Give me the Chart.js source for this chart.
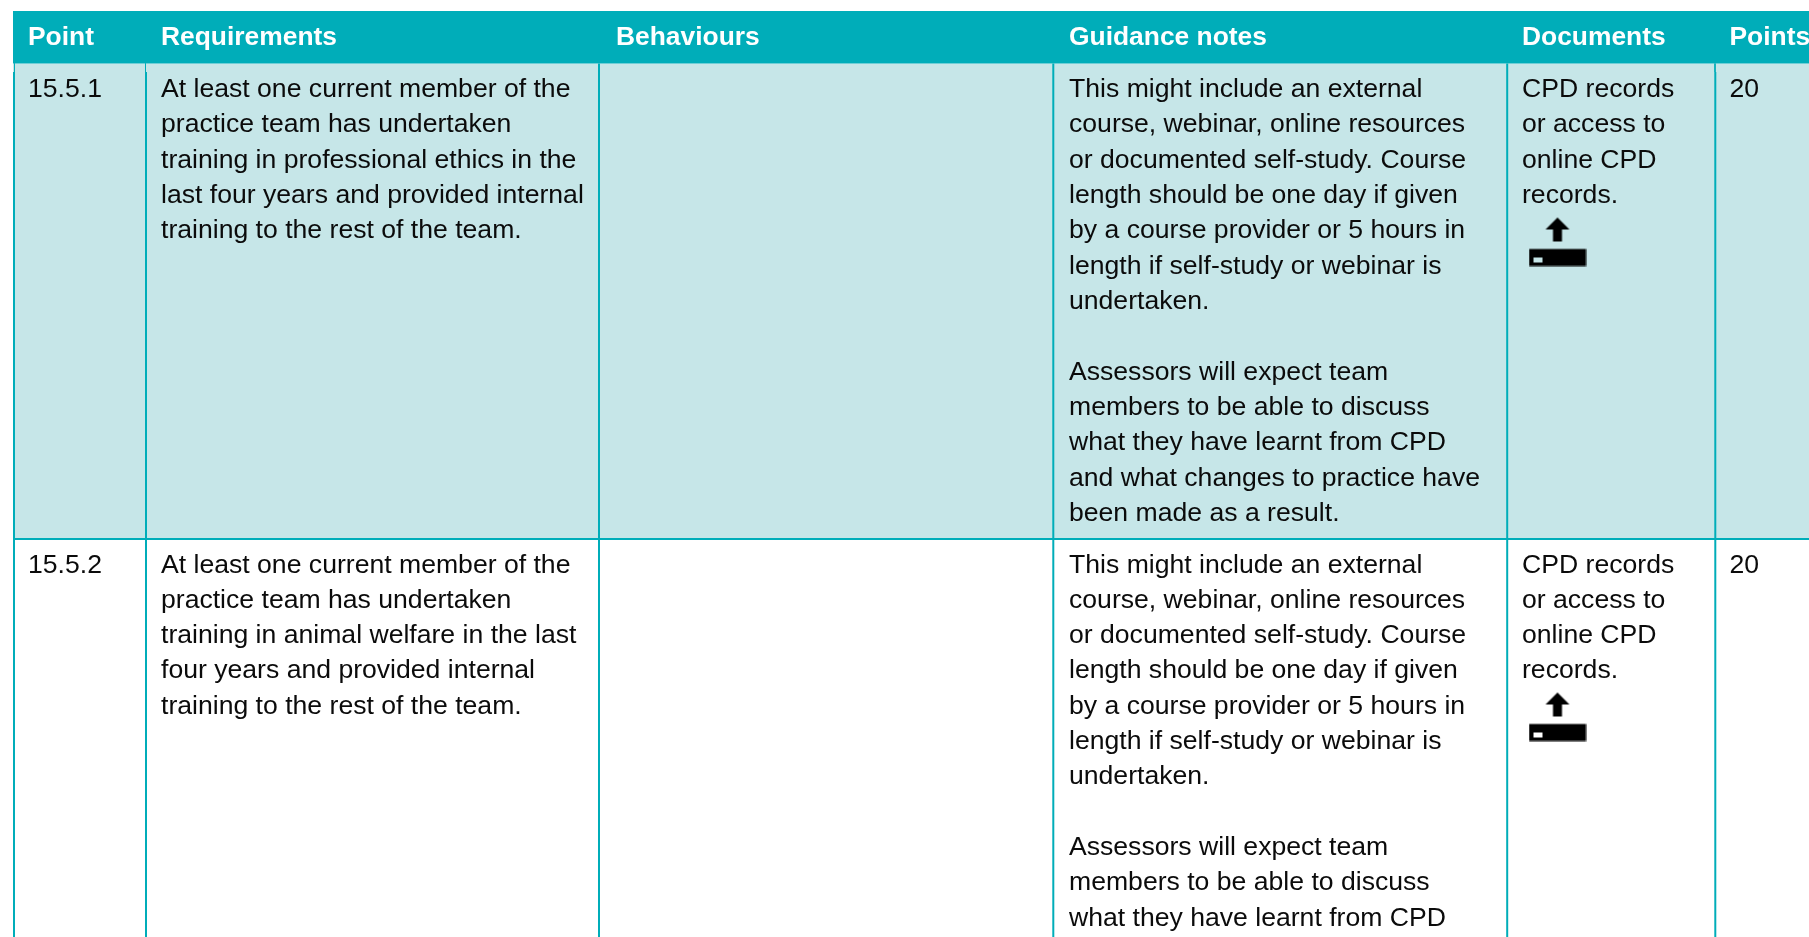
<!DOCTYPE html>
<html lang="en">
<head>
<meta charset="utf-8">
<title>Professional ethics and welfare training</title>
<style>
    html, body { margin: 0; padding: 0; background: #fff; overflow: hidden; }
    canvas { display: block; }
</style>
<script src="https://cdn.jsdelivr.net/npm/chart.js@4/dist/chart.umd.min.js"></script>
</head>
<body>
<canvas id="tableChart" width="1809" height="937"></canvas>
<script>
// Table content
const columnHeaders = ['Point', 'Requirements', 'Behaviours', 'Guidance notes', 'Documents', 'Points'];
const rowIds = ['15.5.1', '15.5.2'];
const rowPoints = ['20', '20'];
const requirementLines = [
    ['At least one current member of the', 'practice team has undertaken', 'training in professional ethics in the', 'last four years and provided internal', 'training to the rest of the team.'],
    ['At least one current member of the', 'practice team has undertaken', 'training in animal welfare in the last', 'four years and provided internal', 'training to the rest of the team.']
];
const guidanceLines = [
    ['This might include an external', 'course, webinar, online resources', 'or documented self-study. Course', 'length should be one day if given', 'by a course provider or 5 hours in', 'length if self-study or webinar is', 'undertaken.', '', 'Assessors will expect team', 'members to be able to discuss', 'what they have learnt from CPD', 'and what changes to practice have', 'been made as a result.'],
    ['This might include an external', 'course, webinar, online resources', 'or documented self-study. Course', 'length should be one day if given', 'by a course provider or 5 hours in', 'length if self-study or webinar is', 'undertaken.', '', 'Assessors will expect team', 'members to be able to discuss', 'what they have learnt from CPD']
];
const documentLines = ['CPD records', 'or access to', 'online CPD', 'records.'];

// Table grid, in axis units
const columnEdges = [14, 146, 599, 1053.3, 1507.2, 1715.3];
const rowEdges = [11, 63.5, 539, 937];
const textStarts = [28, 161, 616, 1069, 1522, 1729.5];
const iconX = [1557.5, 1557.5];
const iconY = [241.5, 716.5];
// The first row's rules start thin under the header on these columns
const thinStubX = [14.5, 145.5, 1715];
const stubEnd = 72;

const TEAL = '#00adb9';
const PALE = '#c6e6e8';
const INK = '#0b0b0b';
const LINE_STEP = 35.33;
const LEFT = 13;
const RIGHT = 1809;

// Upload icon used in the Documents column, the slot stays see-through
function makeUploadIcon() {
    const icon = document.createElement('canvas');
    icon.width = 58;
    icon.height = 50;
    const c = icon.getContext('2d');
    c.fillStyle = '#000';
    c.beginPath();
    c.moveTo(29, 1);
    c.lineTo(41, 13);
    c.lineTo(33.5, 13);
    c.lineTo(33.5, 25);
    c.lineTo(24.5, 25);
    c.lineTo(24.5, 13);
    c.lineTo(17, 13);
    c.closePath();
    c.fill();
    c.fillRect(0.5, 32.5, 57, 17);
    c.clearRect(4.5, 40.5, 9, 5);
    return icon;
}

function ruleDataset(points, width) {
    return {
        data: points,
        borderColor: TEAL,
        borderWidth: width,
        pointRadius: 0,
        fill: false,
        order: 1
    };
}

function bandDataset(top, bottom, color) {
    return {
        data: [{ x: LEFT, y: top }, { x: RIGHT, y: top }],
        borderWidth: 0,
        borderColor: color,
        backgroundColor: color,
        pointRadius: 0,
        fill: { value: bottom },
        order: 3
    };
}

const datasets = [
    bandDataset(rowEdges[0], rowEdges[1], TEAL),
    bandDataset(rowEdges[1], rowEdges[2], PALE)
];

columnEdges.forEach((x, i) => {
    const notched = i === 0 || i === 1 || i === 5;
    const start = notched ? stubEnd : rowEdges[1];
    datasets.push(ruleDataset([{ x: x, y: start }, { x: x, y: rowEdges[3] }], 2));
});
thinStubX.forEach(x => {
    datasets.push(ruleDataset([{ x: x, y: rowEdges[1] }, { x: x, y: stubEnd }], 1));
});
datasets.push(ruleDataset([{ x: LEFT, y: rowEdges[2] }, { x: RIGHT, y: rowEdges[2] }], 2));

// Icons are plain points with a canvas point style
const iconImage = makeUploadIcon();
datasets.push({
    data: iconX.map((x, i) => ({ x: x, y: iconY[i] })),
    showLine: false,
    pointStyle: iconImage,
    pointRadius: 20,
    order: 0
});

const tableText = {
    id: 'tableText',
    afterDatasetsDraw(chart) {
        const { ctx, scales } = chart;
        const put = (text, column, y) => {
            ctx.fillText(text, scales.x.getPixelForValue(textStarts[column]), scales.y.getPixelForValue(y));
        };
        ctx.save();
        ctx.textBaseline = 'alphabetic';
        ctx.textAlign = 'left';

        ctx.fillStyle = '#ffffff';
        ctx.font = 'bold 26.4px "Liberation Sans", Arial, sans-serif';
        columnHeaders.forEach((label, i) => put(label, i, 44.5));

        ctx.fillStyle = INK;
        ctx.font = '26.6px "Liberation Sans", Arial, sans-serif';
        rowIds.forEach((id, r) => {
            const first = rowEdges[r + 1] + 33.5;
            put(id, 0, first);
            requirementLines[r].forEach((line, i) => put(line, 1, first + i * LINE_STEP));
            guidanceLines[r].forEach((line, i) => put(line, 3, first + i * LINE_STEP));
            documentLines.forEach((line, i) => put(line, 4, first + i * LINE_STEP));
            put(rowPoints[r], 5, first);
        });
        ctx.restore();
    }
};

new Chart(document.getElementById('tableChart').getContext('2d'), {
    type: 'line',
    data: { datasets: datasets },
    plugins: [tableText],
    options: {
        responsive: false,
        animation: false,
        parsing: false,
        normalized: true,
        layout: { padding: 0, autoPadding: false },
        plugins: {
            legend: { display: false },
            tooltip: { enabled: false },
            title: { display: false }
        },
        scales: {
            x: { type: 'linear', min: 0, max: 1809, display: false },
            y: { type: 'linear', min: 0, max: 937, reverse: true, display: false }
        }
    }
});
</script>
</body>
</html>
